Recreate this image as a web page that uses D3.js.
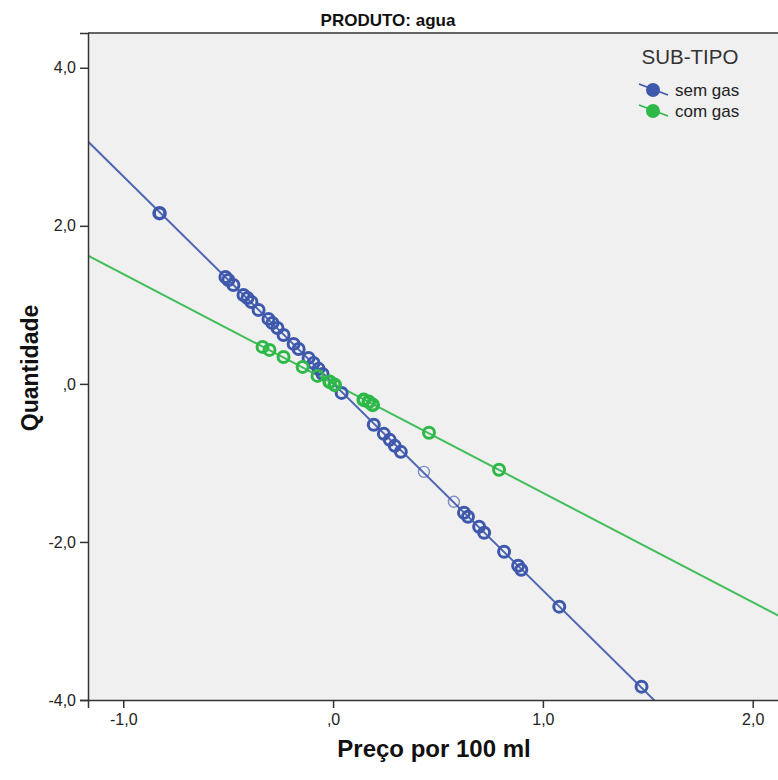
<!DOCTYPE html>
<html>
<head>
<meta charset="utf-8">
<script src="https://cdn.jsdelivr.net/npm/d3@7"></script>
<style>
body { margin: 0; background: #fff; }
text { font-family: "Liberation Sans", Arial, sans-serif; }
</style>
</head>
<body>
<svg id="chart" width="778" height="780"></svg>
<script>
// sem gas points (Preço por 100 ml, Quantidade) and how many overlap at each spot
var semX = [-0.827, -0.513, -0.499, -0.475, -0.427, -0.408, -0.389, -0.355, -0.308, -0.289, -0.265, -0.236,
    -0.188, -0.164, -0.117, -0.093, -0.069, -0.050, 0.041, 0.194, 0.242, 0.270, 0.294, 0.323,
    0.433, 0.576, 0.624, 0.643, 0.696, 0.720, 0.815, 0.882, 0.897, 1.078, 1.470];
var semY = [2.16, 1.353, 1.315, 1.252, 1.125, 1.087, 1.037, 0.936, 0.822, 0.771, 0.708, 0.619,
    0.506, 0.442, 0.329, 0.265, 0.190, 0.126, -0.114, -0.518, -0.632, -0.708, -0.784, -0.860,
    -1.113, -1.492, -1.631, -1.681, -1.808, -1.884, -2.124, -2.301, -2.351, -2.819, -3.831];
var semN = [3, 2, 2, 2, 2, 2, 2, 2, 2, 2, 2, 2,
    2, 2, 2, 2, 2, 2, 2, 2, 2, 2, 2, 2,
    1, 1, 2, 2, 2, 2, 2, 2, 2, 2, 2];

// com gas points
var comX = [-0.336, -0.303, -0.236, -0.145, -0.074, -0.016, 0.008, 0.146, 0.170, 0.189, 0.457, 0.791];
var comY = [0.468, 0.430, 0.341, 0.215, 0.101, 0.025, -0.013, -0.202, -0.228, -0.265, -0.619, -1.087];
var comN = [2, 2, 2, 2, 2, 3, 3, 3, 3, 3, 2, 2];

var groups = ["sem gas", "com gas"];
var colors = ["#3e58ac", "#2eb848"];

var xTicks = [-1, 0, 1, 2];
var xTickLabels = ["-1,0", ",0", "1,0", "2,0"];
var yTicks = [-4, -2, 0, 2, 4];
var yTickLabels = ["-4,0", "-2,0", ",0", "2,0", "4,0"];

var plotLeft = 88, plotTop = 33, plotRight = 780, plotBottom = 700;

var svg = d3.select("#chart");

var x = d3.scaleLinear()
    .domain([-1.168, 2.13])
    .range([plotLeft, plotRight]);
var y = d3.scaleLinear()
    .domain([-4, 4.44])
    .range([plotBottom, plotTop]);

svg.append("rect")
    .attr("x", plotLeft).attr("y", plotTop)
    .attr("width", plotRight - plotLeft).attr("height", plotBottom - plotTop)
    .attr("fill", "#f0f0f0");

svg.append("clipPath").attr("id", "plotclip")
    .append("rect")
    .attr("x", plotLeft).attr("y", plotTop)
    .attr("width", plotRight - plotLeft).attr("height", plotBottom - plotTop);

var series = [
    { name: groups[0], color: colors[0], pts: semX.map((d, i) => ({ x: d, y: semY[i], n: semN[i] })) },
    { name: groups[1], color: colors[1], pts: comX.map((d, i) => ({ x: d, y: comY[i], n: comN[i] })) }
];

var plot = svg.append("g").attr("clip-path", "url(#plotclip)");

// least squares fit line for each group
series.forEach(function (s) {
    var mx = d3.mean(s.pts, d => d.x);
    var my = d3.mean(s.pts, d => d.y);
    var sxy = d3.sum(s.pts, d => (d.x - mx) * (d.y - my));
    var sxx = d3.sum(s.pts, d => (d.x - mx) * (d.x - mx));
    var b = sxy / sxx;
    var a = my - b * mx;
    var line = d3.line()
        .x(d => x(d))
        .y(d => y(a + b * d));
    plot.append("path")
        .attr("d", line(x.domain()))
        .attr("fill", "none")
        .attr("stroke", s.color)
        .attr("stroke-opacity", 0.9)
        .attr("stroke-width", 2);
});

series.forEach(function (s) {
    plot.append("g").selectAll("circle")
        .data(s.pts)
        .enter()
        .append("circle")
        .attr("cx", d => x(d.x))
        .attr("cy", d => y(d.y))
        .attr("r", 5.5)
        .attr("fill", "none")
        .attr("stroke", s.color)
        .attr("stroke-opacity", d => d.n > 1 ? 1 : 0.65)
        .attr("stroke-width", d => d.n > 2 ? 3.6 : (d.n > 1 ? 3 : 1.4));
});

// frame top
svg.append("line")
    .attr("x1", plotLeft).attr("x2", plotRight).attr("y1", plotTop).attr("y2", plotTop)
    .attr("stroke", "#333").attr("stroke-width", 1.5);

var xAxis = d3.axisBottom(x)
    .tickValues(xTicks)
    .tickFormat((d, i) => xTickLabels[i])
    .tickSizeOuter(0)
    .tickSize(8)
    .tickPadding(6);
var yAxis = d3.axisLeft(y)
    .tickValues(yTicks)
    .tickFormat((d, i) => yTickLabels[i])
    .tickSizeOuter(0)
    .tickSize(8)
    .tickPadding(4);

var gx = svg.append("g")
    .attr("transform", `translate(0, ${plotBottom})`)
    .call(xAxis);
var gy = svg.append("g")
    .attr("transform", `translate(${plotLeft}, 0)`)
    .call(yAxis);

[gx, gy].forEach(function (g) {
    g.attr("font-size", 16);
    g.select(".domain").attr("stroke", "#333").attr("stroke-width", 1.5);
    g.selectAll(".tick line").attr("stroke", "#333").attr("stroke-width", 1.5);
    g.selectAll(".tick text")
        .attr("fill", "#222")
        .attr("font-family", "Liberation Sans, Arial, sans-serif");
});

// titles
svg.append("text")
    .attr("x", 388).attr("y", 26)
    .attr("text-anchor", "middle")
    .style("font-size", "17px").style("font-weight", "bold")
    .attr("fill", "#111")
    .text("PRODUTO: agua");

svg.append("text")
    .attr("x", 434).attr("y", 757)
    .attr("text-anchor", "middle")
    .style("font-size", "24px").style("font-weight", "bold")
    .attr("fill", "#111")
    .text("Preço por 100 ml");

svg.append("text")
    .attr("transform", "translate(38, 368) rotate(-90)")
    .attr("text-anchor", "middle")
    .style("font-size", "23px").style("font-weight", "bold")
    .attr("fill", "#111")
    .text("Quantidade");

// legend
var legend = svg.append("g");
legend.append("text")
    .attr("x", 690).attr("y", 64)
    .attr("text-anchor", "middle")
    .style("font-size", "20.5px")
    .attr("fill", "#333")
    .text("SUB-TIPO");

series.forEach(function (s, i) {
    var cy = 90 + i * 21;
    legend.append("line")
        .attr("x1", 639).attr("y1", cy - 6)
        .attr("x2", 668).attr("y2", cy + 5)
        .attr("stroke", s.color).attr("stroke-width", 1.6);
    legend.append("circle")
        .attr("cx", 653).attr("cy", cy)
        .attr("r", 7)
        .attr("fill", s.color);
    legend.append("text")
        .attr("x", 675).attr("y", cy + 6)
        .style("font-size", "17px")
        .attr("fill", "#222")
        .text(s.name);
});
</script>
</body>
</html>
